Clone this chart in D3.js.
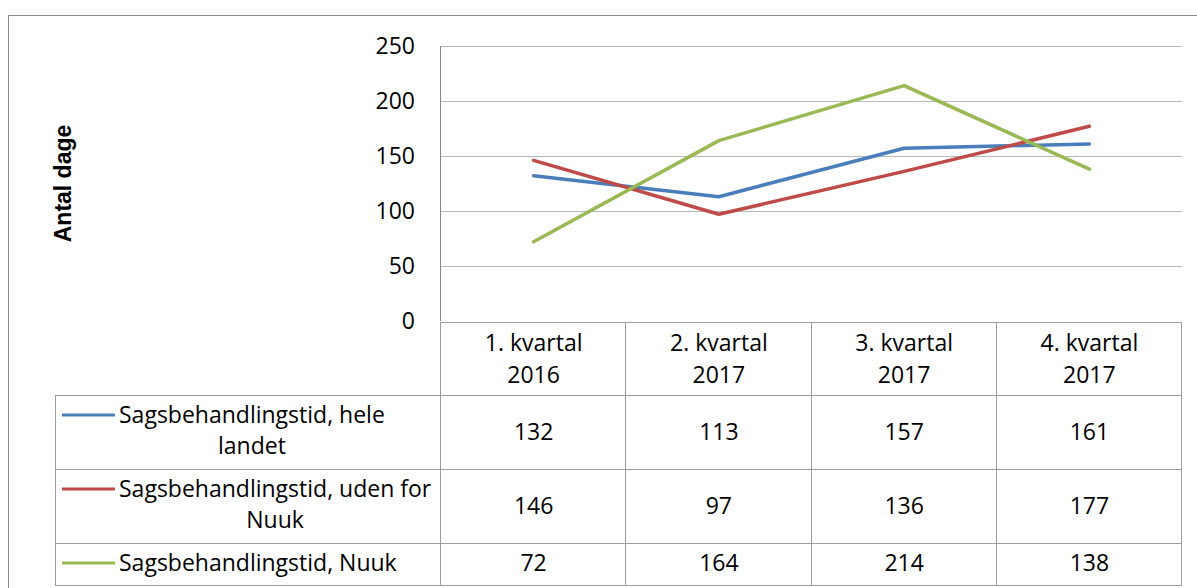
<!DOCTYPE html>
<meta charset="utf-8">
<style>
  body { margin: 0; background: #fff; }
  svg text { font-family: "Open Sans", sans-serif; fill: #000; }
</style>
<body id="chart"></body>
<script src="https://cdn.jsdelivr.net/npm/d3@7"></script>
<script>
// data
var quarters = ["1. kvartal", "2. kvartal", "3. kvartal", "4. kvartal"];
var years = ["2016", "2017", "2017", "2017"];
var seriesNames = [["Sagsbehandlingstid, hele", "landet"],
                   ["Sagsbehandlingstid, uden for", "Nuuk"],
                   ["Sagsbehandlingstid, Nuuk"]];
var seriesColors = ["#4a7ebb", "#be4b48", "#98b954"];
var heleLandet = [132, 113, 157, 161];
var udenforNuuk = [146, 97, 136, 177];
var nuuk = [72, 164, 214, 138];
var yTicks = [0, 50, 100, 150, 200, 250];

var series = [heleLandet, udenforNuuk, nuuk];

var W = 1197, H = 588;
var plot = {left: 441, right: 1182, top: 46, bottom: 321};
var fs = 23;

var svg = d3.select("#chart").append("svg")
    .attr("width", W)
    .attr("height", H);

// outer chart frame
svg.append("rect")
    .attr("x", 8.5).attr("y", 15.5)
    .attr("width", W + 20).attr("height", H + 20)
    .attr("fill", "none").attr("stroke", "#8c8c8c");

var x = d3.scaleBand().domain(d3.range(quarters.length)).range([plot.left, plot.right]);
var y = d3.scaleLinear().domain([0, 250]).range([plot.bottom, plot.top]);

// gridlines
svg.append("g").selectAll("line")
    .data(yTicks.filter(function(d){ return d > 0; }))
    .enter().append("line")
    .attr("x1", plot.left).attr("x2", plot.right)
    .attr("y1", function(d){ return Math.round(y(d)) + 0.5; })
    .attr("y2", function(d){ return Math.round(y(d)) + 0.5; })
    .attr("stroke", "#b8b8b8").attr("stroke-width", 1);

// y axis line
svg.append("line")
    .attr("x1", plot.left - 0.5).attr("x2", plot.left - 0.5)
    .attr("y1", plot.top).attr("y2", plot.bottom)
    .attr("stroke", "#868686");

// y tick labels
svg.append("g").selectAll("text")
    .data(yTicks)
    .enter().append("text")
    .attr("x", 415)
    .attr("y", function(d){ return y(d); })
    .attr("dy", "0.35em")
    .attr("text-anchor", "end")
    .style("font-size", fs + "px")
    .text(function(d){ return d; });

// y title
svg.append("text")
    .attr("transform", "translate(71," + ((plot.top + plot.bottom) / 2) + ") rotate(-90)")
    .attr("text-anchor", "middle")
    .style("font-family", "'Liberation Sans', Arial, sans-serif")
    .style("font-size", "23px")
    .style("font-weight", "bold")
    .text("Antal dage");

// data table
var rows = [plot.bottom + 1, 395, 469, 543, 585];
var tcol = "#9d9d9d";
var tg = svg.append("g").attr("stroke", tcol).attr("stroke-width", 1);
// horizontal lines
rows.forEach(function(r, i){
    tg.append("line")
        .attr("x1", i === 0 ? plot.left : 55).attr("x2", plot.right)
        .attr("y1", r + 0.5).attr("y2", r + 0.5);
});
// vertical lines
d3.range(quarters.length + 1).forEach(function(i){
    var xx = i < quarters.length ? x(i) : plot.right;
    tg.append("line")
        .attr("x1", Math.round(xx) - 0.5).attr("x2", Math.round(xx) - 0.5)
        .attr("y1", rows[0]).attr("y2", rows[4]);
});
tg.append("line")
    .attr("x1", 55.5).attr("x2", 55.5)
    .attr("y1", rows[1]).attr("y2", rows[4]);

// header labels
quarters.forEach(function(q, i){
    var cx = x(i) + x.bandwidth() / 2;
    svg.append("text").attr("x", cx).attr("y", 343).attr("dy", "0.35em")
        .attr("text-anchor", "middle").style("font-size", fs + "px").text(q);
    svg.append("text").attr("x", cx).attr("y", 375).attr("dy", "0.35em")
        .attr("text-anchor", "middle").style("font-size", fs + "px").text(years[i]);
});

// legend keys, names, values
var keyY = [415, 489, 563];
var valY = [432, 506, 563];
series.forEach(function(s, k){
    svg.append("line")
        .attr("x1", 62).attr("x2", 115)
        .attr("y1", keyY[k]).attr("y2", keyY[k])
        .attr("stroke", seriesColors[k]).attr("stroke-width", 3);
    var t1 = svg.append("text").attr("x", 119).attr("y", keyY[k]).attr("dy", "0.35em")
        .style("font-size", fs + "px").text(seriesNames[k][0]);
    if (seriesNames[k].length > 1) {
        var w1 = t1.node().getComputedTextLength();
        svg.append("text").attr("x", 119 + w1 / 2).attr("y", keyY[k] + 31).attr("dy", "0.35em")
            .attr("text-anchor", "middle").style("font-size", fs + "px").text(seriesNames[k][1]);
    }
    s.forEach(function(v, i){
        svg.append("text").attr("x", x(i) + x.bandwidth() / 2).attr("y", valY[k]).attr("dy", "0.35em")
            .attr("text-anchor", "middle").style("font-size", fs + "px").text(v);
    });
});

// lines
var line = d3.line()
    .x(function(d, i){ return x(i) + x.bandwidth() / 2; })
    .y(function(d){ return y(d); });

svg.append("g").selectAll("path")
    .data(series)
    .enter().append("path")
    .attr("d", line)
    .attr("fill", "none")
    .attr("stroke", function(d, i){ return seriesColors[i]; })
    .attr("stroke-width", 3.5)
    .attr("stroke-linejoin", "round")
    .attr("stroke-linecap", "round");
</script>
